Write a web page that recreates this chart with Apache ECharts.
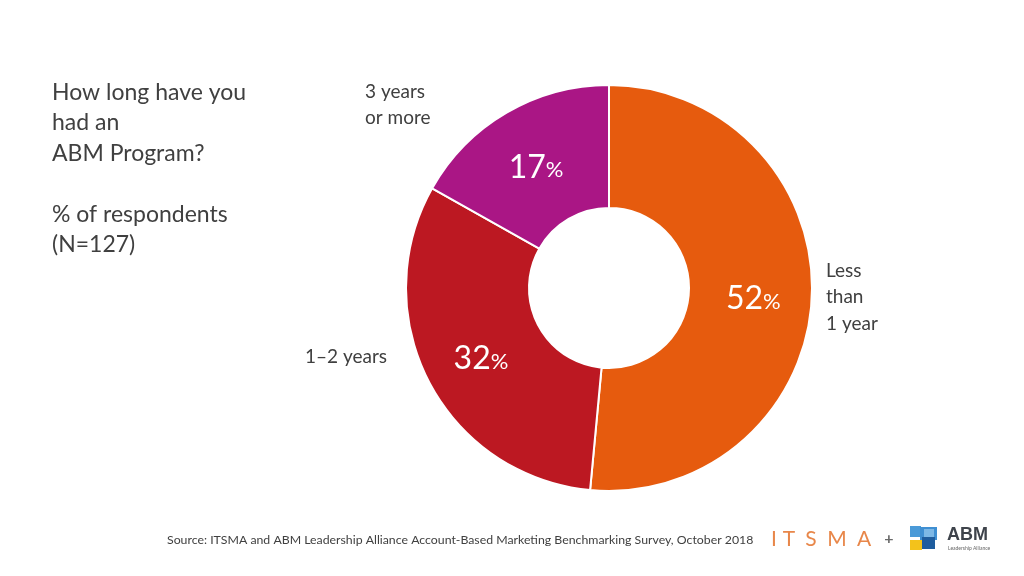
<!DOCTYPE html>
<html>
<head>
<meta charset="utf-8">
<script src="https://cdn.jsdelivr.net/npm/echarts@6/dist/echarts.min.js"></script>
<style>
html,body{margin:0;padding:0;background:#fff;}
#chart{width:1024px;height:576px;}
</style>
</head>
<body>
<div id="chart"></div>
<script>
const categories = ['Less\nthan\n1 year', '1–2 years', '3 years\nor more'];
const values = [52, 32, 17];
const colors = ['#E65B0E', '#BC1822', '#AA1685'];
const titleLines = ['How long have you', 'had an', 'ABM Program?', '', '% of respondents', '(N=127)'];
const sourceText = 'Source: ITSMA and ABM Leadership Alliance Account-Based Marketing Benchmarking Survey, October 2018';

const FONT = 'Lato, "Open Sans", sans-serif';
const chart = echarts.init(document.getElementById('chart'), null, {renderer: 'canvas'});

const data = categories.map((c, i) => ({name: c, value: values[i], itemStyle: {color: colors[i]}}));

const outsidePos = [
  {x: 826, y: 297},
  {x: 305, y: 357},
  {x: 365, y: 105}
];

const itsmaLetters = ['I', 'T', 'S', 'M', 'A'];
const itsmaX = [774, 789, 811, 837, 864];
const graphics = [];
titleLines.forEach((t, i) => {
  graphics.push({type: 'text', left: 52, top: 81 + i * 30.5,
    style: {text: t, font: '23px ' + FONT, fill: '#404040'}});
});
graphics.push({type: 'text', left: 167, top: 534,
  style: {text: sourceText, font: '12.3px ' + FONT, fill: '#404040'}});
itsmaLetters.forEach((l, i) => {
  graphics.push({type: 'text', x: itsmaX[i], y: 539,
    style: {text: l, font: '21px ' + FONT, fill: '#E8874A', align: 'center', verticalAlign: 'middle'}});
});
graphics.push({type: 'text', x: 889, y: 539,
  style: {text: '+', font: 'bold 16px ' + FONT, fill: '#6a6a6a', align: 'center', verticalAlign: 'middle'}});
graphics.push({type: 'rect', shape: {x: 910, y: 526, width: 11, height: 11}, style: {fill: '#4A9AD8'}});
graphics.push({type: 'rect', shape: {x: 920, y: 527, width: 17, height: 13}, style: {fill: '#3F8FD2'}});
graphics.push({type: 'rect', shape: {x: 924, y: 529, width: 10, height: 8}, style: {fill: '#7DB8E6'}});
graphics.push({type: 'rect', shape: {x: 910, y: 540, width: 12, height: 10}, style: {fill: '#F3C21B'}});
graphics.push({type: 'rect', shape: {x: 922, y: 537, width: 13, height: 12}, style: {fill: '#1F5D9E'}});
graphics.push({type: 'text', x: 947, y: 535,
  style: {text: 'ABM', font: 'bold 18px "Liberation Sans", Arial, sans-serif', fill: '#3E434B', verticalAlign: 'middle'}});
graphics.push({type: 'text', x: 948, y: 548,
  style: {text: 'Leadership Alliance', font: '5px ' + FONT, fill: '#666', verticalAlign: 'middle'}});

chart.setOption({
  animation: false,
  backgroundColor: '#ffffff',
  graphic: graphics,
  series: [
    {
      type: 'pie',
      center: [609, 288],
      radius: [80, 203],
      startAngle: 90,
      clockwise: true,
      silent: true,
      itemStyle: {borderColor: '#ffffff', borderWidth: 2},
      label: {
        position: 'inside',
        padding: [8, 0, 0, 0],
        formatter: p => '{v|' + p.value + '}{p|%}',
        rich: {
          v: {fontFamily: FONT, fontSize: 32, color: '#ffffff'},
          p: {fontFamily: FONT, fontSize: 22, color: '#ffffff', padding: [6, 0, 0, 0]}
        }
      },
      labelLine: {show: false},
      data: data
    },
    {
      type: 'pie',
      center: [609, 288],
      radius: [80, 203],
      startAngle: 90,
      clockwise: true,
      silent: true,
      itemStyle: {color: 'rgba(0,0,0,0)', borderWidth: 0},
      label: {
        position: 'outside',
        formatter: p => p.name,
        fontFamily: FONT, fontSize: 19, color: '#404040', lineHeight: 26.5
      },
      labelLine: {show: false},
      labelLayout: p => ({
        x: outsidePos[p.dataIndex].x,
        y: outsidePos[p.dataIndex].y,
        align: 'left',
        verticalAlign: 'middle'
      }),
      data: categories.map((c, i) => ({name: c, value: values[i]}))
    }
  ]
});
</script>
</body>
</html>
